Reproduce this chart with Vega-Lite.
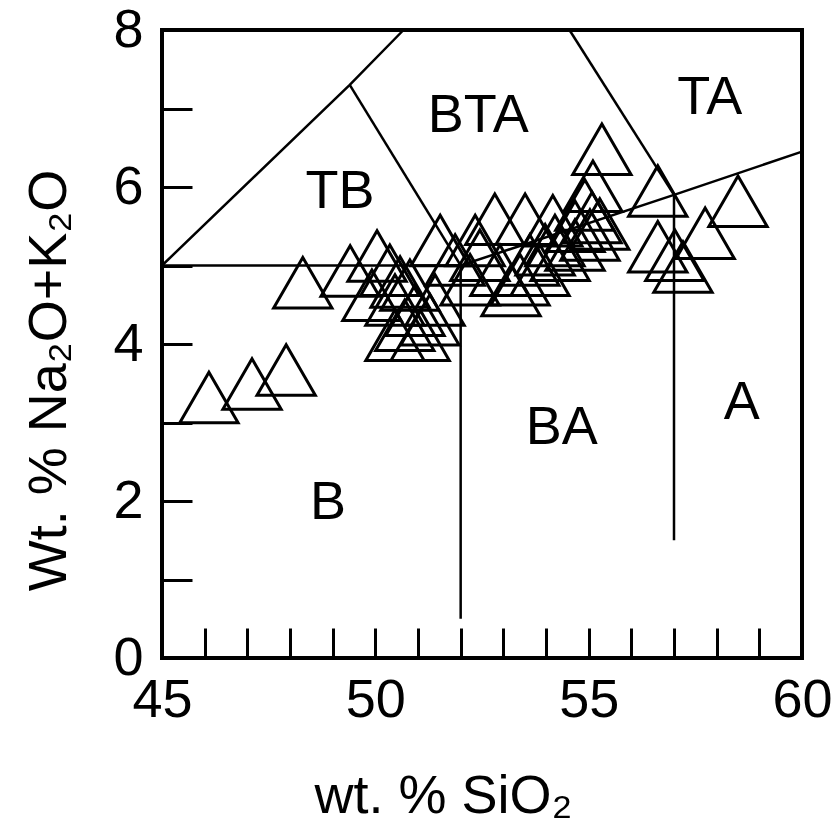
{
  "$schema": "https://vega.github.io/schema/vega-lite/v6.json",
  "width": 640,
  "height": 628,
  "autosize": {"type": "none"},
  "padding": {"left": 162, "top": 30, "right": 37, "bottom": 168},
  "background": "white",
  "config": {
    "view": {"stroke": "black", "strokeWidth": 4},
    "font": "Liberation Sans",
    "axis": {
      "grid": false,
      "domain": false,
      "labelFontSize": 54,
      "titleFontSize": 54,
      "labelColor": "black",
      "titleColor": "black",
      "titleFontWeight": "normal",
      "tickColor": "black",
      "tickWidth": 3,
      "tickSize": -30
    }
  },
  "datasets": {
    "samples": [
      {"sio2": 46.10, "alk": 3.32},
      {"sio2": 47.11, "alk": 3.49},
      {"sio2": 47.91, "alk": 3.67},
      {"sio2": 48.30, "alk": 4.78},
      {"sio2": 49.41, "alk": 4.93},
      {"sio2": 50.04, "alk": 5.12},
      {"sio2": 50.34, "alk": 4.94},
      {"sio2": 50.58, "alk": 4.79},
      {"sio2": 49.92, "alk": 4.62},
      {"sio2": 50.46, "alk": 4.56},
      {"sio2": 50.81, "alk": 4.75},
      {"sio2": 50.93, "alk": 4.43},
      {"sio2": 50.69, "alk": 4.24},
      {"sio2": 50.46, "alk": 4.11},
      {"sio2": 51.05, "alk": 4.11},
      {"sio2": 51.28, "alk": 4.31},
      {"sio2": 51.40, "alk": 4.56},
      {"sio2": 51.52, "alk": 5.32},
      {"sio2": 51.87, "alk": 5.07},
      {"sio2": 52.34, "alk": 5.32},
      {"sio2": 52.80, "alk": 5.59},
      {"sio2": 53.51, "alk": 5.59},
      {"sio2": 54.16, "alk": 5.57},
      {"sio2": 54.68, "alk": 5.50},
      {"sio2": 52.45, "alk": 5.13},
      {"sio2": 52.92, "alk": 4.94},
      {"sio2": 53.18, "alk": 4.68},
      {"sio2": 53.39, "alk": 4.82},
      {"sio2": 53.86, "alk": 4.94},
      {"sio2": 53.98, "alk": 5.20},
      {"sio2": 54.33, "alk": 5.13},
      {"sio2": 54.68, "alk": 5.26},
      {"sio2": 55.03, "alk": 5.39},
      {"sio2": 55.31, "alk": 6.48},
      {"sio2": 55.10, "alk": 6.01},
      {"sio2": 55.08, "alk": 5.61},
      {"sio2": 54.91, "alk": 5.77},
      {"sio2": 56.62, "alk": 5.95},
      {"sio2": 58.50, "alk": 5.82},
      {"sio2": 57.73, "alk": 5.41},
      {"sio2": 56.62, "alk": 5.24},
      {"sio2": 57.21, "alk": 4.98},
      {"sio2": 57.02, "alk": 5.13},
      {"sio2": 53.62, "alk": 5.07},
      {"sio2": 52.22, "alk": 4.82},
      {"sio2": 54.21, "alk": 5.32},
      {"sio2": 55.26, "alk": 5.53}
    ],
    "fields": [
      {"seg": "s1", "i": 0, "sio2": 45, "alk": 5},
      {"seg": "s1", "i": 1, "sio2": 49.4, "alk": 7.3},
      {"seg": "s1", "i": 2, "sio2": 50.66, "alk": 8},
      {"seg": "s2", "i": 0, "sio2": 49.4, "alk": 7.3},
      {"seg": "s2", "i": 1, "sio2": 52, "alk": 5},
      {"seg": "s3", "i": 0, "sio2": 45, "alk": 5},
      {"seg": "s3", "i": 1, "sio2": 52, "alk": 5},
      {"seg": "s3", "i": 2, "sio2": 57, "alk": 5.9},
      {"seg": "s3", "i": 3, "sio2": 60, "alk": 6.45},
      {"seg": "s4", "i": 0, "sio2": 54.55, "alk": 8},
      {"seg": "s4", "i": 1, "sio2": 57, "alk": 5.9},
      {"seg": "s5", "i": 0, "sio2": 52, "alk": 5},
      {"seg": "s5", "i": 1, "sio2": 52, "alk": 0.5},
      {"seg": "s6", "i": 0, "sio2": 57, "alk": 5.9},
      {"seg": "s6", "i": 1, "sio2": 57, "alk": 1.5}
    ],
    "labels": [
      {"name": "TB", "sio2": 49.17, "alk": 5.94},
      {"name": "BTA", "sio2": 52.41, "alk": 6.9},
      {"name": "TA", "sio2": 57.84, "alk": 7.13},
      {"name": "BA", "sio2": 54.37, "alk": 2.93},
      {"name": "A", "sio2": 58.59, "alk": 3.25},
      {"name": "B", "sio2": 48.89, "alk": 1.97}
    ]
  },
  "encoding": {
    "x": {
      "field": "sio2",
      "type": "quantitative",
      "scale": {"domain": [45, 60], "nice": false, "zero": false},
      "axis": {
        "title": "wt. % SiO₂",
        "values": [45, 46, 47, 48, 49, 50, 51, 52, 53, 54, 55, 56, 57, 58, 59, 60],
        "labelExpr": "datum.value % 5 === 0 ? datum.label : ''",
        "labelFlush": false,
        "labelPadding": 45,
        "titleX": 281,
        "titleY": 154,
        "titleBaseline": "alphabetic",
        "titleAlign": "center"
      }
    },
    "y": {
      "field": "alk",
      "type": "quantitative",
      "scale": {"domain": [0, 8], "nice": false, "zero": false},
      "axis": {
        "title": "Wt. % Na₂O+K₂O",
        "values": [0, 1, 2, 3, 4, 5, 6, 7, 8],
        "labelExpr": "datum.value % 2 === 0 ? datum.label : ''",
        "labelFlush": false,
        "labelPadding": 49,
        "titleX": -97,
        "titleY": 350,
        "titleBaseline": "alphabetic",
        "titleAlign": "center",
        "titleAngle": -90
      }
    }
  },
  "layer": [
    {
      "data": {"name": "fields"},
      "mark": {"type": "line", "color": "black", "strokeWidth": 2.5},
      "encoding": {
        "detail": {"field": "seg"},
        "order": {"field": "i", "type": "quantitative"}
      }
    },
    {
      "data": {"name": "labels"},
      "mark": {"type": "text", "fontSize": 54, "color": "black", "align": "center", "baseline": "middle", "font": "Liberation Sans"},
      "encoding": {
        "text": {"field": "name"}
      }
    },
    {
      "data": {"name": "samples"},
      "mark": {"type": "point", "shape": "triangle-up", "size": 3400, "filled": false, "stroke": "black", "strokeWidth": 3, "opacity": 1},
      "encoding": {}
    }
  ]
}
